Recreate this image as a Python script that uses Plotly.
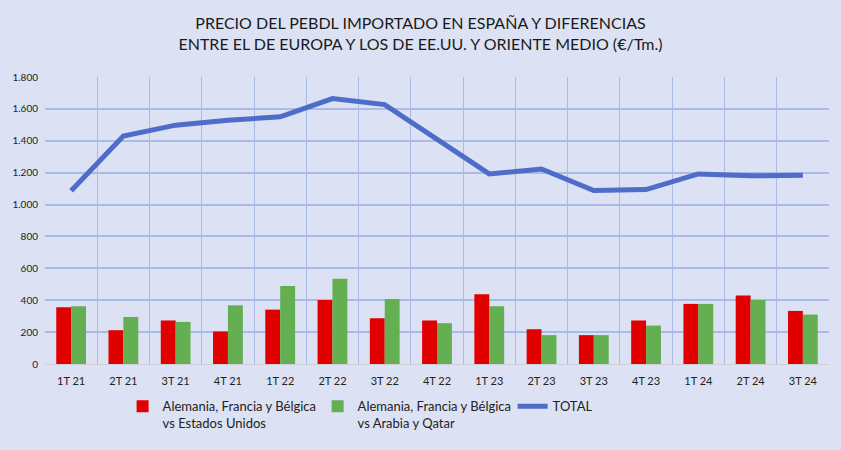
import plotly.graph_objects as go

trimestres = ["1T 21", "2T 21", "3T 21", "4T 21", "1T 22", "2T 22", "3T 22", "4T 22",
              "1T 23", "2T 23", "3T 23", "4T 23", "1T 24", "2T 24", "3T 24"]
vs_eeuu = [356, 212, 273, 204, 341, 402, 287, 273, 437, 218, 181, 273, 377, 429, 333]
vs_arabia = [362, 295, 264, 368, 489, 535, 408, 256, 362, 181, 181, 241, 377, 402, 310]
total = [1086, 1430, 1498, 1529, 1550, 1665, 1627, 1411, 1192, 1223, 1088, 1094, 1192, 1180, 1184]

y_ticks = [0, 200, 400, 600, 800, 1000, 1200, 1400, 1600, 1800]
y_labels = ["0", "200", "400", "600", "800", "1.000", "1.200", "1.400", "1.600", "1.800"]

FONT = "Lato"

fig = go.Figure()
fig.add_trace(go.Bar(
    name="Alemania, Francia y Bélgica<br>vs Estados Unidos",
    x=trimestres, y=vs_eeuu, marker=dict(color="#E00000", line=dict(width=0)),
))
fig.add_trace(go.Bar(
    name="Alemania, Francia y Bélgica<br>vs Arabia y Qatar",
    x=trimestres, y=vs_arabia, marker=dict(color="#63AF52", line=dict(width=0)),
))
fig.add_trace(go.Scatter(
    name="TOTAL", x=trimestres, y=total, mode="lines",
    line=dict(color="#4E6CC9", width=5),
))

fig.update_layout(
    width=841, height=450,
    margin=dict(l=43, r=12, t=77, b=85),
    paper_bgcolor="#DCE2F3", plot_bgcolor="#DCE2F3",
    barmode="group", bargap=0.43, bargroupgap=0,
    font=dict(family=FONT, color="#222222"),
    title=dict(
        text="PRECIO DEL PEBDL IMPORTADO EN ESPAÑA Y DIFERENCIAS<br>ENTRE EL DE EUROPA Y LOS DE EE.UU. Y ORIENTE MEDIO (€/Tm.)",
        x=0.5, xanchor="center", y=0.935, yanchor="top",
        font=dict(family=FONT, size=16, color="#1a1a1a"),
    ),
    xaxis=dict(
        tickson="boundaries", showgrid=True, gridcolor="#AABBE8", gridwidth=1,
        ticks="", showline=True, linecolor="#D0D0D8", linewidth=1,
        tickfont=dict(size=11, color="#222222"), ticklabelstandoff=7,
    ),
    yaxis=dict(
        range=[0, 1800], tickvals=y_ticks, ticktext=y_labels,
        showgrid=True, gridcolor="#AABBE8", gridwidth=1.5, zeroline=False,
        tickfont=dict(size=10, color="#222222"), ticklabelstandoff=6,
    ),
    legend=dict(
        orientation="h", x=0.099, xanchor="left", y=-0.095, yanchor="top",
        font=dict(family=FONT, size=13, color="#222222"),
        bgcolor="rgba(0,0,0,0)", itemwidth=30, valign="top",
        entrywidth=150, entrywidthmode="pixels",
    ),
)

fig.write_html("out.html", config={"displayModeBar": False},
               post_script="document.body.style.margin='0';")
